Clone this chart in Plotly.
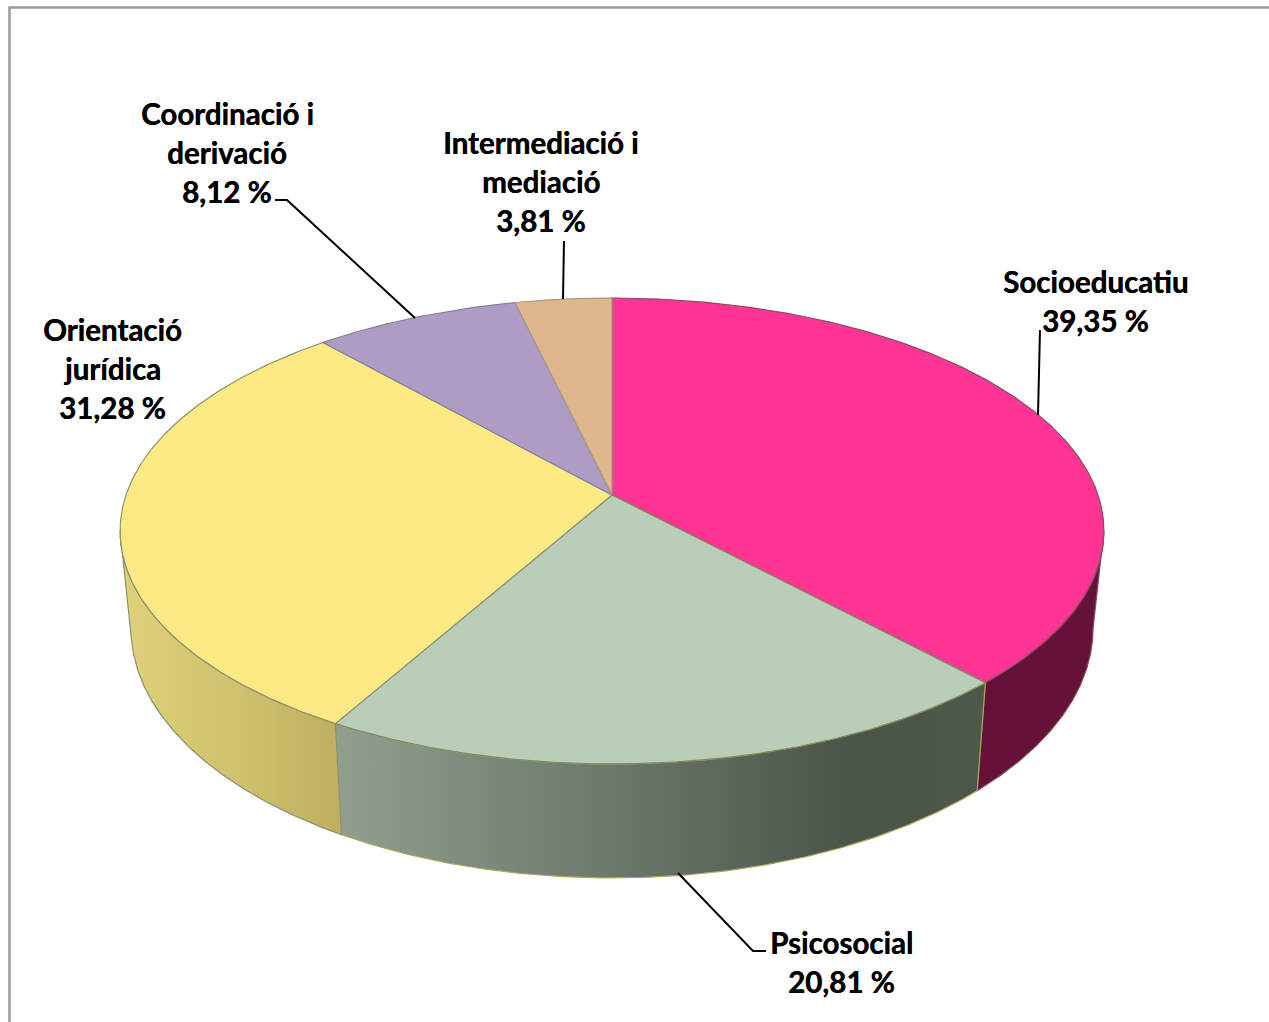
import numpy as np
import plotly.graph_objects as go

# ---- data ----
categories = ["Socioeducatiu", "Psicosocial", "Orientació jurídica", "Coordinació i derivació", "Intermediació i mediació"]
values = [39.35, 20.81, 31.28, 8.12, 3.81]
value_labels = ["39,35 %", "20,81 %", "31,28 %", "8,12 %", "3,81 %"]
label_lines = [["Socioeducatiu"], ["Psicosocial"], ["Orientació", "jurídica"], ["Coordinació i", "derivació"], ["Intermediació i", "mediació"]]
top_colors = ["#FF3596", "#BACDB8", "#FDEA85", "#AE9CC4", "#DEB78C"]
side_scales = [
    [[0, "#641238"], [1, "#641238"]],
    [[0, "#909F8E"], [0.45, "#69766A"], [0.8, "#4A5448"], [1, "#4D584A"]],
    [[0, "#E0D27A"], [0.5, "#D0C26E"], [1, "#BFAF60"]],
    None, None,
]
edge_colors = ["#8C4A5E", "#7E8C5A", "#8A9170", "#857F98", "#A69A80"]
side_edge_colors = ["#8C4A5E", "#A8A85A", "#8A9170", None, None]

# ---- layout / projection constants (pixels) ----
W, H = 1269, 1022
FONT = "Lato"; FS = 29.5; LH = 39
CX, CY, A, B, K = 612.0, 495.0, 486.0, 227.4, 0.1544
SX, SYA, SYB = 0.978, 1.0732, 58.1
label_pos = [(1095, 281), (841, 942), (112, 329), (227, 113), (541, 142)]
leaders = [
    [(1038, 415), (1040, 330)],
    [(678, 873), (753, 951), (766, 951)],
    [],
    [(275, 200), (287, 200), (415, 318)],
    [(564, 241), (563, 299)],
]

def top(theta):
    u, v = np.sin(theta), -np.cos(theta)
    w = 1 - K * v
    return CX + A * u / w, CY + B * v / w

def bottom(theta):
    x, y = top(theta)
    return CX + SX * (x - CX), SYA * y + SYB

fig = go.Figure()
total = sum(values)
edges = 2 * np.pi * np.concatenate([[0], np.cumsum(values)]) / total
vis0, vis1 = np.pi - np.arccos(K), np.pi + np.arccos(K)

# side walls
for i in range(len(values)):
    a, b = max(edges[i], vis0), min(edges[i + 1], vis1)
    if b <= a or side_scales[i] is None:
        continue
    t = np.linspace(a, b, 160)
    xt, yt = top(t)
    xb, yb = bottom(t[::-1])
    xs = np.concatenate([xt, xb, xt[:1]]); ys = np.concatenate([yt, yb, yt[:1]])
    fig.add_trace(go.Scatter(
        x=xs, y=ys, mode="lines", fill="toself",
        line=dict(color=side_edge_colors[i], width=1.2),
        fillgradient=dict(type="horizontal", colorscale=side_scales[i],
                          start=float(xs.min()), stop=float(xs.max())),
        hoverinfo="skip", showlegend=False))

# top faces
for i in range(len(values)):
    t = np.linspace(edges[i], edges[i + 1], 240)
    xt, yt = top(t)
    xs = np.concatenate([[CX], xt, [CX]]); ys = np.concatenate([[CY], yt, [CY]])
    fig.add_trace(go.Scatter(
        x=xs, y=ys, mode="lines", fill="toself", fillcolor=top_colors[i],
        line=dict(color=edge_colors[i], width=1.2),
        name=categories[i], text=value_labels[i], hoverinfo="name+text", showlegend=False))

# leader lines
for pts in leaders:
    if pts:
        fig.add_trace(go.Scatter(
            x=[p[0] for p in pts], y=[p[1] for p in pts], mode="lines",
            line=dict(color="#000000", width=2), hoverinfo="skip", showlegend=False))

# labels
annos = []
for i in range(len(values)):
    x, y = label_pos[i]
    for j, line in enumerate(label_lines[i] + [value_labels[i]]):
        annos.append(dict(x=x, y=y + j * LH, text=f"<b>{line}</b>", showarrow=False,
                          xanchor="center", yanchor="middle",
                          font=dict(family=FONT, size=FS, color="#000000",
                                    shadow="0.4px 0 0 #000000")))

fig.update_layout(
    width=W, height=H, margin=dict(l=0, r=0, t=0, b=0),
    paper_bgcolor="#FFFFFF", plot_bgcolor="#FFFFFF",
    xaxis=dict(range=[0, W], visible=False, fixedrange=True),
    yaxis=dict(range=[H, 0], visible=False, fixedrange=True),
    annotations=annos,
    shapes=[dict(type="rect", x0=9.5, y0=7.5, x1=W + 20, y1=H + 20,
                 line=dict(color="#9A9A9A", width=2.5), fillcolor="rgba(0,0,0,0)", layer="below")],
)
fig.write_html("out.html", config=dict(displayModeBar=False),
               post_script="document.body.style.margin='0';document.body.style.overflow='hidden';")
